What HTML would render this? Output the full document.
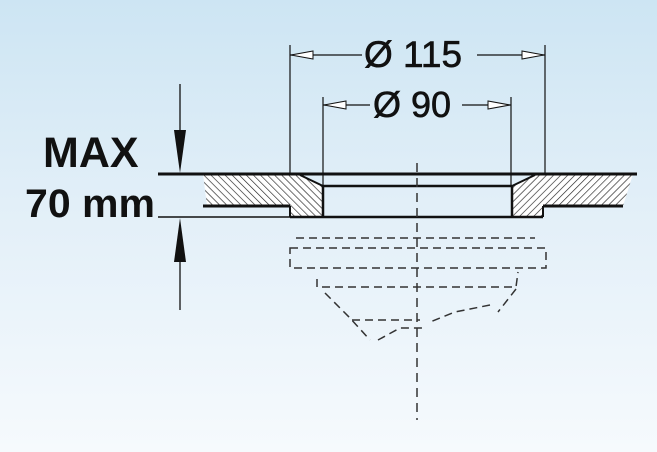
<!DOCTYPE html>
<html><head><style>
html,body{margin:0;padding:0}
body{width:657px;height:452px;background:linear-gradient(180deg,#cde5f3 0%,#e2eff8 45%,#f6fafd 100%);overflow:hidden}
svg{position:absolute;left:0;top:0}
text{font-family:"Liberation Sans",sans-serif;fill:#111}
</style></head><body>
<svg width="657" height="452" viewBox="0 0 657 452">
<defs>
<pattern id="hl" width="5" height="5" patternUnits="userSpaceOnUse" patternTransform="rotate(-45)">
<rect width="5" height="5" fill="#fff"/><line x1="0" y1="0" x2="0" y2="5" stroke="#222" stroke-width="1.3"/></pattern>
<pattern id="hr" width="5" height="5" patternUnits="userSpaceOnUse" patternTransform="rotate(45)">
<rect width="5" height="5" fill="#fff"/><line x1="0" y1="0" x2="0" y2="5" stroke="#222" stroke-width="1.3"/></pattern>
</defs>
<g stroke="#111" fill="none">
<path d="M203 174 L300 174 L323 186 L323 217 L290 217 L290 206 L207 206 Z" fill="url(#hl)" stroke="none"/>
<path d="M535 174 L512 186 L512 217 L543 217 L543 206 L623 206 L633 174 Z" fill="url(#hr)" stroke="none"/>
<line x1="158" y1="174" x2="637" y2="174" stroke-width="3"/>
<line x1="300" y1="175" x2="323" y2="186" stroke-width="2"/>
<line x1="535" y1="175" x2="512" y2="186" stroke-width="2"/>
<line x1="323" y1="186" x2="512" y2="186" stroke-width="2.5"/>
<line x1="323" y1="186" x2="323" y2="217" stroke-width="2.5"/>
<line x1="512" y1="186" x2="512" y2="217" stroke-width="2.5"/>
<line x1="203" y1="206" x2="290" y2="206" stroke-width="3"/>
<line x1="543" y1="206" x2="623" y2="206" stroke-width="3"/>
<line x1="290" y1="206" x2="290" y2="217" stroke-width="2"/>
<line x1="543" y1="206" x2="543" y2="217" stroke-width="2"/>
<line x1="158" y1="217" x2="290" y2="217" stroke-width="1.5"/>
<line x1="290" y1="217" x2="543" y2="217" stroke-width="2.5"/>
<g stroke-width="1.2">
<line x1="290" y1="45" x2="290" y2="174"/>
<line x1="545" y1="45" x2="545" y2="174"/>
<line x1="323" y1="97" x2="323" y2="186"/>
<line x1="511" y1="97" x2="511" y2="186"/>
<line x1="290" y1="55" x2="362" y2="55"/>
<line x1="477" y1="55" x2="545" y2="55"/>
<line x1="323" y1="105" x2="370" y2="105"/>
<line x1="462" y1="105" x2="511" y2="105"/>
</g>
<g stroke-width="1" fill="#fff">
<path d="M291 55 L313 51 L313 59 Z"/>
<path d="M544 55 L522 51 L522 59 Z"/>
<path d="M324 105 L346 101 L346 109 Z"/>
<path d="M510 105 L488 101 L488 109 Z"/>
</g>
<line x1="180" y1="84" x2="180" y2="150" stroke-width="1.3"/>
<path d="M174 130 L186 130 L180 173 Z" fill="#111" stroke="none"/>
<line x1="180" y1="250" x2="180" y2="310" stroke-width="1.3"/>
<path d="M174 262 L186 262 L180 218 Z" fill="#111" stroke="none"/>
<line x1="417" y1="163" x2="417" y2="420" stroke-width="1.5" stroke-dasharray="9 6" stroke="#333"/>
<g stroke="#333" stroke-width="1.5" stroke-dasharray="8 5">
<line x1="296" y1="238" x2="535" y2="238"/>
<path d="M290 248 L546 248 L546 268 L290 268 Z"/>
<path d="M317 279 L317 287 L516 287 L518 272"/>
<path d="M325 293 L350 318 L370 340"/>
<path d="M352 320 L420 320"/>
<path d="M516 289 L498 312"/>
<path d="M490 305 L455 312 L430 322"/>
<path d="M378 340 L400 328 L425 328"/>
</g>
</g>
<text x="364" y="67" font-size="37" stroke="#111" stroke-width="0.6">Ø 115</text>
<text x="373" y="117" font-size="36" stroke="#111" stroke-width="0.6">Ø 90</text>
<text x="43" y="167" font-size="43" font-weight="bold">MAX</text>
<text x="25" y="217" font-size="40" font-weight="bold" textLength="130" lengthAdjust="spacingAndGlyphs">70 mm</text>
</svg>
</body></html>
